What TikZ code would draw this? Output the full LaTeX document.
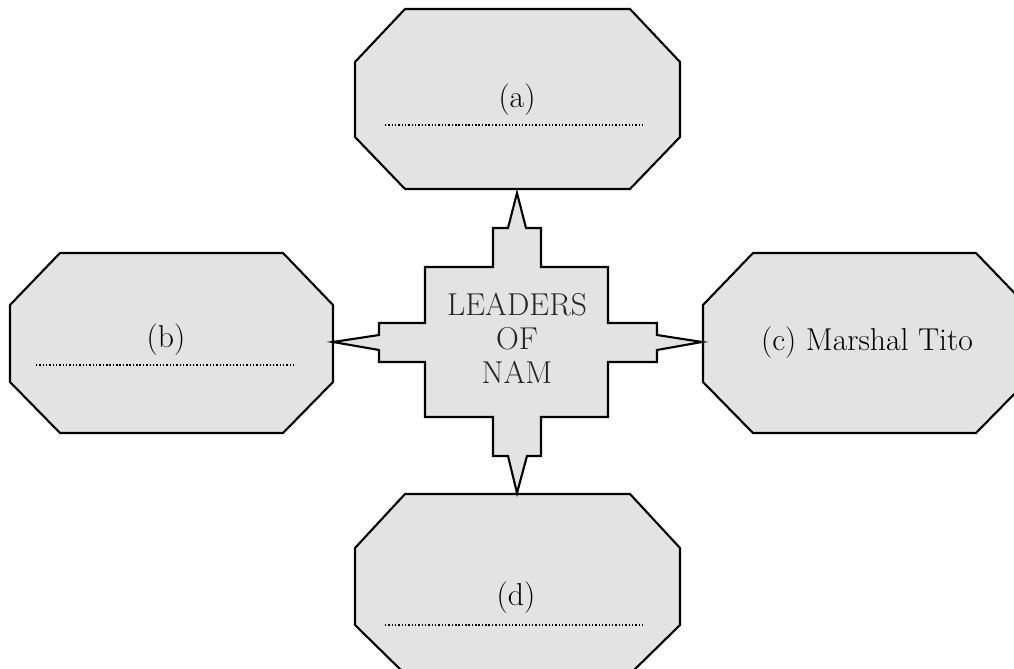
\documentclass[tikz,border=0pt]{standalone}
\usetikzlibrary{backgrounds}

\tikzset{
	panel/.style={draw=black, fill=black!11, line width=1.2pt, line join=miter},
	blank/.style={line width=1.2pt, dash pattern=on 0.8pt off 1.1pt},
	word/.style={font=\fontsize{18}{19.3}\selectfont, inner sep=0pt}
}

\begin{document}
\begin{tikzpicture}[x=0.02cm, y=-0.02cm]
		\useasboundingbox (0,0) rectangle (1014,669);
		\clip (0,0) rectangle (1014,669);
		
		% the four answer boxes
		\draw[panel] (405,9) -- (630,9) -- (680,62) -- (680,137) -- (630,189) -- (405,189) -- (355,137) -- (355,62) -- cycle;
		\draw[panel] (60,253) -- (283,253) -- (333,305) -- (333,382) -- (283,433) -- (60,433) -- (10,382) -- (10,305) -- cycle;
		\draw[panel] (753,253) -- (976,253) -- (1026,305) -- (1026,382) -- (976,433) -- (753,433) -- (703,382) -- (703,305) -- cycle;
		\draw[panel] (405,494) -- (630,494) -- (680,548) -- (680,625) -- (630,674) -- (405,674) -- (355,625) -- (355,548) -- cycle;
		
		% the star in the middle
		\draw[panel] (517,193) -- (526,228) -- (541,228) -- (541,267) -- (608,267) -- (608,323)
			-- (657,323) -- (657,335) -- (702,342) -- (657,350) -- (657,362) -- (608,362)
			-- (608,417) -- (541,417) -- (541,456) -- (527,456) -- (517,493) -- (508,456)
			-- (493,456) -- (493,417) -- (425,417) -- (425,362) -- (379,362) -- (379,350)
			-- (333,342) -- (379,335) -- (379,323) -- (425,323) -- (425,267) -- (493,267)
			-- (493,228) -- (508,228) -- cycle;
		
		\node[word, align=center, text=black!85] (nam) at (517,338) {LEADERS\\OF\\NAM};
		
		
		\node[word] (qa) at (517,100) {(a)};
		\draw[blank] (385,125) -- (643,125);
		
		\node[word] (qb) at (166,340) {(b)};
		\draw[blank] (36,365) -- (294,365);
		
		\node[word] (qc) at (867,343) {(c) Marshal Tito};
		
		\node[word] (qd) at (516,598) {(d)};
		\draw[blank] (385,625) -- (643,625);
		
\end{tikzpicture}
\end{document}
